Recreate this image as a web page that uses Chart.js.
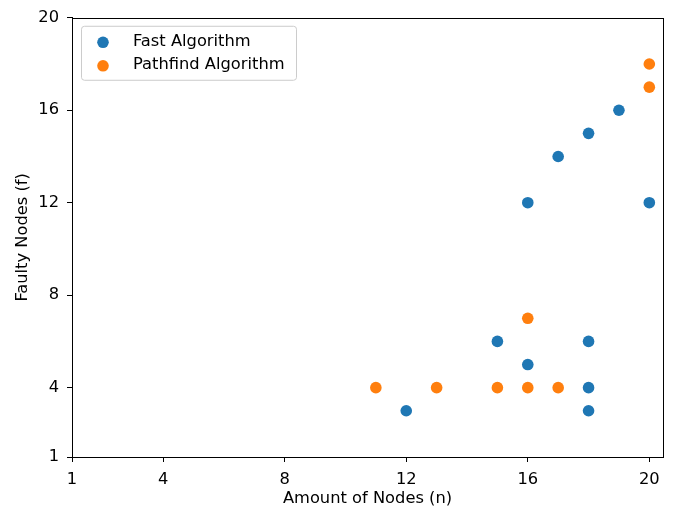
<!DOCTYPE html>
<html>
<head>
<meta charset="utf-8">
<script src="https://cdn.jsdelivr.net/npm/chart.js@4/dist/chart.umd.min.js"></script>
<style>
html, body { margin: 0; padding: 0; background: #fff; }
</style>
</head>
<body>
<canvas id="scatterChart" width="681" height="509"></canvas>
<script>
// Data
const fastN = [12, 15, 16, 16, 17, 18, 18, 18, 18, 19, 20];
const fastF = [3, 6, 5, 12, 14, 15, 6, 4, 3, 16, 12];
const pathN = [11, 13, 15, 16, 16, 17, 20, 20];
const pathF = [4, 4, 4, 4, 7, 4, 17, 18];
const xTicks = [1, 4, 8, 12, 16, 20];
const yTicks = [1, 4, 8, 12, 16, 20];

const FONT = '"DejaVu Sans", sans-serif';
const FS = 16.3;

function toPoints(xs, ys) {
    return xs.map((x, i) => ({ x: x, y: ys[i] }));
}

// Box around the plot area (matplotlib style frame)
const frame = {
    id: 'frame',
    afterDraw(chart) {
        const { ctx, chartArea: a } = chart;
        ctx.save();
        ctx.strokeStyle = '#000';
        ctx.lineWidth = 1;
        ctx.strokeRect(Math.round(a.left) + 0.5, Math.round(a.top) + 0.5,
            Math.round(a.right - a.left), Math.round(a.bottom - a.top));
        ctx.restore();
    }
};

// Legend drawn inside the upper left of the plot
const insideLegend = {
    id: 'insideLegend',
    afterDraw(chart) {
        const { ctx, chartArea: a } = chart;
        const x0 = a.left + 9, y0 = a.top + 8, w = 215, h = 54;
        ctx.save();
        ctx.fillStyle = 'rgba(255,255,255,0.8)';
        ctx.strokeStyle = '#cccccc';
        ctx.lineWidth = 1;
        ctx.beginPath();
        ctx.roundRect(x0 + 0.5, y0 + 0.5, w, h, 3);
        ctx.fill();
        ctx.stroke();
        chart.data.datasets.forEach((ds, i) => {
            const cy = y0 + 16.5 + i * 23.5;
            ctx.fillStyle = ds.backgroundColor;
            ctx.beginPath();
            ctx.arc(x0 + 22, cy, 5.8, 0, 2 * Math.PI);
            ctx.fill();
            ctx.fillStyle = '#000';
            ctx.font = FS + 'px ' + FONT;
            ctx.textBaseline = 'middle';
            ctx.fillText(ds.label, x0 + 52, cy - 1);
        });
        ctx.restore();
    }
};

const axisCommon = {
    grid: { drawOnChartArea: false, drawTicks: true, tickLength: 5, color: '#000', tickColor: '#000' },
    border: { display: true, color: '#000', width: 1 },
    ticks: { color: '#000', font: { family: FONT, size: FS }, padding: 8 }
};

new Chart(document.getElementById('scatterChart').getContext('2d'), {
    type: 'scatter',
    data: {
        datasets: [
            {
                label: 'Fast Algorithm',
                data: toPoints(fastN, fastF),
                backgroundColor: '#1f77b4',
                borderColor: '#1f77b4',
                pointRadius: 5.8,
                borderWidth: 0
            },
            {
                label: 'Pathfind Algorithm',
                data: toPoints(pathN, pathF),
                backgroundColor: '#ff7f0e',
                borderColor: '#ff7f0e',
                pointRadius: 5.8,
                borderWidth: 0
            }
        ]
    },
    options: {
        responsive: false,
        animation: false,
        layout: { padding: { top: 16, right: 18, left: 0, bottom: 0 } },
        plugins: {
            legend: { display: false },
            tooltip: { enabled: false }
        },
        scales: {
            x: {
                ...axisCommon,
                min: 1,
                max: 20.45,
                afterBuildTicks: scale => { scale.ticks = xTicks.map(v => ({ value: v })); },
                afterFit: scale => { scale.height = 52; },
                title: { display: true, text: 'Amount of Nodes (n)', color: '#000',
                    font: { family: FONT, size: FS }, padding: { top: 0, bottom: 0 } }
            },
            y: {
                ...axisCommon,
                min: 1,
                max: 20,
                afterBuildTicks: scale => { scale.ticks = yTicks.map(v => ({ value: v })); },
                afterFit: scale => { scale.width = 72; },
                title: { display: true, text: 'Faulty Nodes (f)', color: '#000',
                    font: { family: FONT, size: FS }, padding: { top: 13, bottom: 0 } }
            }
        }
    },
    plugins: [frame, insideLegend]
});
</script>
</body>
</html>
